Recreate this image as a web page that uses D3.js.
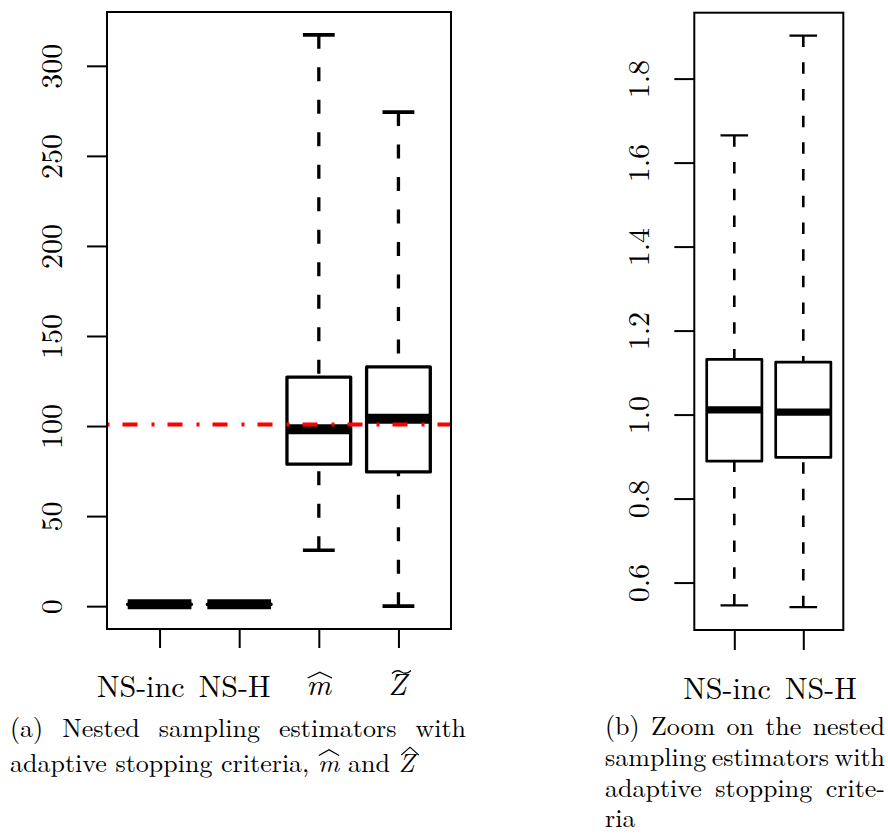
<!DOCTYPE html>
<html><head><meta charset="utf-8">
<script src="https://cdn.jsdelivr.net/npm/d3@7"></script>
<style>body{margin:0;background:#fff} svg{display:block}</style>
</head><body>
<svg id="c" width="888" height="834"></svg>
<script>
// ---------- data: panel (a) ----------
const categoriesA   = ["NS-inc", "NS-H", "m", "Z"];
const lowWhiskerA   = [0.5456, 0.5415, 31.0, 0.0];
const lowHingeA     = [0.889, 0.898, 78.8, 74.5];
const medianA       = [1.011, 1.006, 98.2, 104.1];
const highHingeA    = [1.1316, 1.125, 127.2, 132.8];
const highWhiskerA  = [1.665, 1.9025, 317.2, 274.3];
const referenceValueA = 100.8;
const yTicksA       = [0, 50, 100, 150, 200, 250, 300];
const yTickLabelsA  = ["0", "50", "100", "150", "200", "250", "300"];

// ---------- data: panel (b) ----------
const categoriesB   = ["NS-inc", "NS-H"];
const lowWhiskerB   = [0.5456, 0.5415];
const lowHingeB     = [0.889, 0.898];
const medianB       = [1.011, 1.006];
const highHingeB    = [1.1316, 1.125];
const highWhiskerB  = [1.665, 1.9025];
const yTicksB       = [0.6, 0.8, 1.0, 1.2, 1.4, 1.6, 1.8];
const yTickLabelsB  = ["0.6", "0.8", "1.0", "1.2", "1.4", "1.6", "1.8"];

const FONT = "'Latin Modern Roman', 'Liberation Serif', serif";
const svg = d3.select("#c");

function panel(cfg) {
  const n = cfg.cats.length;
  const g = svg.append("g");
  const x = d3.scaleLinear().domain([0.5 - 0.04 * n, n + 0.5 + 0.04 * n]).range([cfg.L, cfg.R]);
  const lo = d3.min(cfg.lw), hi = d3.max(cfg.hw), r = hi - lo;
  const y = d3.scaleLinear().domain([lo - 0.04 * r, hi + 0.04 * r]).range([cfg.B, cfg.T]);
  const rows = cfg.cats.map((c, i) => ({c, i: i + 1, lw: cfg.lw[i], lh: cfg.lh[i], md: cfg.md[i], hh: cfg.hh[i], hw: cfg.hw[i]}));

  const clipId = "clip" + cfg.id;
  svg.append("clipPath").attr("id", clipId).append("rect")
    .attr("x", cfg.L).attr("y", cfg.T).attr("width", cfg.R - cfg.L).attr("height", cfg.B - cfg.T);

  const boxes = g.append("g").attr("clip-path", `url(#${clipId})`);
  const bw = 0.4, sw = 0.2;
  rows.forEach(d => {
    [[d.hw, d.hh], [d.lw, d.lh]].forEach(([a, b]) => {
      boxes.append("line").attr("x1", x(d.i)).attr("x2", x(d.i)).attr("y1", y(a)).attr("y2", y(b))
        .attr("stroke", "#000").attr("stroke-width", cfg.whiskW).attr("stroke-dasharray", cfg.dash);
    });
    [d.hw, d.lw].forEach(v => {
      boxes.append("line").attr("x1", x(d.i - sw)).attr("x2", x(d.i + sw)).attr("y1", y(v)).attr("y2", y(v))
        .attr("stroke", "#000").attr("stroke-width", cfg.stapleW);
    });
    boxes.append("rect").attr("x", x(d.i - bw)).attr("width", x(d.i + bw) - x(d.i - bw))
      .attr("y", y(d.hh)).attr("height", Math.max(0, y(d.lh) - y(d.hh)))
      .attr("fill", "#fff").attr("stroke", "#000").attr("stroke-width", cfg.boxW).attr("stroke-linejoin", "round");
    boxes.append("line").attr("x1", x(d.i - bw)).attr("x2", x(d.i + bw)).attr("y1", y(d.md)).attr("y2", y(d.md))
      .attr("stroke", "#000").attr("stroke-width", cfg.medW);
  });

  if (cfg.ref != null) {
    boxes.append("line").attr("x1", cfg.L).attr("x2", cfg.R).attr("y1", y(cfg.ref)).attr("y2", y(cfg.ref))
      .attr("stroke", "#ff0000").attr("stroke-width", 4)
      .attr("stroke-dasharray", "15 14 3 13").attr("stroke-dashoffset", 29.5);
  }

  g.append("rect").attr("x", cfg.L).attr("y", cfg.T).attr("width", cfg.R - cfg.L).attr("height", cfg.B - cfg.T)
    .attr("fill", "none").attr("stroke", "#000").attr("stroke-width", 2);

  const ya = g.append("g").attr("transform", `translate(${cfg.L},0)`)
    .call(d3.axisLeft(y).tickValues(cfg.yTicks).tickSize(20).tickFormat((v, i) => cfg.yLabels[i]));
  ya.select(".domain").remove();
  ya.selectAll(".tick line").attr("stroke", "#000").attr("stroke-width", 2);
  ya.selectAll(".tick text").attr("x", null).attr("dy", null).attr("text-anchor", "middle")
    .attr("transform", "translate(-45.5,0) rotate(-90)")
    .style("font-family", FONT).style("font-size", "30px").attr("fill", "#000");

  const xa = g.append("g").attr("transform", `translate(0,${cfg.B})`)
    .call(d3.axisBottom(x).tickValues(rows.map(d => d.i)).tickSize(cfg.xTick).tickFormat(""));
  xa.select(".domain").remove();
  xa.selectAll(".tick line").attr("stroke", "#000").attr("stroke-width", 2);
  return {x, y, g};
}

const pa = panel({id: "a", cats: categoriesA, lw: lowWhiskerA, lh: lowHingeA, md: medianA, hh: highHingeA, hw: highWhiskerA,
  L: 107, R: 451, T: 12, B: 629, yTicks: yTicksA, yLabels: yTickLabelsA, ref: referenceValueA,
  boxW: 3.3, medW: 10, whiskW: 3.3, stapleW: 3.6, dash: "14 18.5", xTick: 19});

const pb = panel({id: "b", cats: categoriesB, lw: lowWhiskerB, lh: lowHingeB, md: medianB, hh: highHingeB, hw: highWhiskerB,
  L: 694.3, R: 843.3, T: 12.7, B: 630, yTicks: yTicksB, yLabels: yTickLabelsB, ref: null,
  boxW: 2.7, medW: 7.3, whiskW: 2.6, stapleW: 2.2, dash: "11.5 15.2", xTick: 20});

function label(txt, xPos, yPos, anchor, italic) {
  return svg.append("text").attr("x", xPos).attr("y", yPos).attr("text-anchor", anchor)
    .style("font-family", FONT).style("font-size", "30px").style("font-style", italic ? "italic" : "normal")
    .attr("fill", "#000").text(txt);
}
function hat(cx, top, w, h) {
  svg.append("path").attr("d",
    `M${cx - w / 2},${top + h} L${cx},${top} L${cx + w / 2},${top + h} L${cx + w / 2 - 0.6},${top + h + 0.9} L${cx},${top + 1.5} L${cx - w / 2 + 0.6},${top + h + 0.9} Z`)
    .attr("fill", "#000");
}
function tilde(cx, cy, w) {
  const a = w / 2;
  svg.append("path").attr("d",
    `M${cx - a},${cy + 1.5} C${cx - a * 0.6},${cy - 2.5} ${cx - a * 0.25},${cy - 1.5} ${cx},${cy} C${cx + a * 0.25},${cy + 1.5} ${cx + a * 0.6},${cy + 2.5} ${cx + a},${cy - 1.5}`)
    .attr("fill", "none").attr("stroke", "#000").attr("stroke-width", 1.3);
}

label(categoriesA[0], pa.x(1) - 62.6, 697, "start", false);
label(categoriesA[1], pa.x(2) + 31.3, 697, "end", false);
label(categoriesA[2], pa.x(3), 695, "middle", true);
hat(pa.x(3) + 1, 671.5, 25, 6);
label(categoriesA[3], pa.x(4) - 1, 695, "middle", true);
tilde(pa.x(4) + 3, 672, 19);

label(categoriesB[0], pb.x(1) - 51, 699, "start", false);
label(categoriesB[1], pb.x(2) + 53.4, 699, "end", false);

const CAP = "26px";
function justify(sel, target) {
  const nat = sel.node().getComputedTextLength();
  const spaces = (sel.text().match(/ /g) || []).length;
  if (spaces) sel.attr("word-spacing", (target - nat) / spaces);
}
function cap(txt, x0, y0) {
  return svg.append("text").attr("x", x0).attr("y", y0).style("font-family", FONT).style("font-size", CAP)
    .attr("fill", "#000").text(txt);
}
justify(cap("(a) Nested sampling estimators with", 10, 737), 456);
const c2 = svg.append("text").attr("x", 10).attr("y", 772).style("font-family", FONT).style("font-size", CAP).attr("fill", "#000");
c2.append("tspan").text("adaptive stopping criteria, ");
const tm = c2.append("tspan").style("font-style", "italic").text("m");
c2.append("tspan").text(" and ");
const tz = c2.append("tspan").style("font-style", "italic").text("Z");
const bm = tm.node().getBBox(), bz = tz.node().getBBox();
hat(bm.x + bm.width / 2, 749, bm.width * 0.95, 6);
hat(bz.x + bz.width / 2 + 2, 746.5, bz.width * 0.95, 8);

const capB = ["(b) Zoom on the nested", "sampling estimators with", "adaptive stopping crite-", "ria"];
const capBy = [735, 766, 796.5, 827];
capB.forEach((t, i) => {
  const s = cap(t, 605, capBy[i]);
  if (i < capB.length - 1) justify(s, 280);
});
</script>
</body></html>
